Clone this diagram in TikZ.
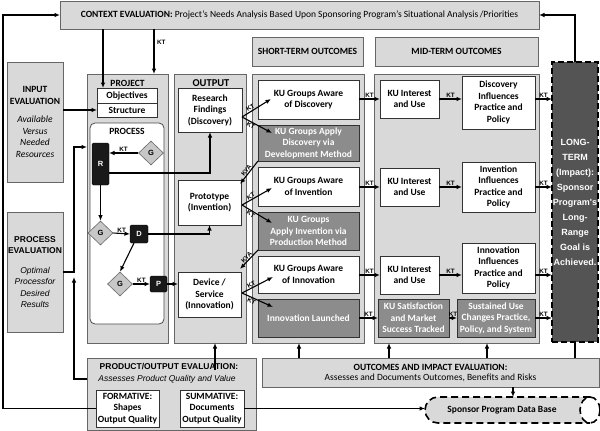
\documentclass[tikz,border=0pt]{standalone}
\usepackage{fontspec}
\setmainfont{Carlito}
\newfontfamily\arialfont{Liberation Sans}
\usetikzlibrary{positioning,calc,shapes.geometric,arrows.meta}
\newcommand{\evnote}[1]{{\mdseries\itshape #1}}

\begin{document}
\begin{tikzpicture}[x=1pt,y=-1pt,>={Latex[length=5.5pt,width=4.5pt]},font=\fontsize{9.5}{11.5}\selectfont\bfseries]
	\tikzstyle{column}=[draw=black!60, fill=black!15, line width=0.8pt, outer sep=0pt, inner sep=1pt, align=center]
	\tikzstyle{whitebox}=[draw=black!80, fill=white, line width=0.8pt, outer sep=0pt, inner sep=1pt, align=center]
	\tikzstyle{graybox}=[draw=black!80, fill=black!45, text=white, line width=0.8pt, outer sep=0pt, inner sep=1pt, align=center]
	\tikzstyle{blackbox}=[draw=black, fill=black!90, rounded corners=1.5pt, text=white, outer sep=0pt, inner sep=0pt, font=\arialfont\bfseries\fontsize{7.5}{8}\selectfont]
	\tikzstyle{gate}=[diamond, draw=black!60, fill=black!22, line width=0.6pt, inner sep=0pt, minimum width=25, minimum height=24, font=\arialfont\bfseries\fontsize{7.5}{8}\selectfont]
	\tikzstyle{longbox}=[draw=black, fill=black!67, text=white, line width=1.6pt, dash pattern=on 6pt off 3pt, outer sep=0pt, inner sep=0pt, align=center, font=\arialfont\bfseries\fontsize{9}{15}\selectfont]
	\tikzstyle{dbline}=[draw=black, line width=1.6pt, dash pattern=on 7pt off 4pt]
	\tikzstyle{flow}=[line width=1.1pt]
	\tikzstyle{kt}=[font=\arialfont\bfseries\fontsize{6.3}{6.5}\selectfont, inner sep=0.6pt]
	\useasboundingbox (0,0) rectangle (600,431);
	\clip (0,0) rectangle (600,431);
	% evaluation boxes
	\node[column, minimum width=479, minimum height=28] (context) at (299.5,15) {CONTEXT EVALUATION:\ \mdseries Project's Needs Analysis Based Upon Sponsoring Program's Situational Analysis\,/Priorities};
	\node[column, minimum width=56, minimum height=120] (inputeval) at (35,122) {INPUT\\EVALUATION\\[7pt]\evnote{Available}\\\evnote{Versus}\\\evnote{Needed}\\\evnote{Resources}};
	\node[column, minimum width=56, minimum height=120, font=\arialfont\bfseries\fontsize{8.5}{11.5}\selectfont] (proceval) at (35,272) {PROCESS\\EVALUATION\\[8pt]\evnote{Optimal}\\\evnote{Processfor}\\\evnote{Desired}\\\evnote{Results}};
	\node[column, minimum width=169, minimum height=72] (prodeval) at (171.5,394) {};
	\node[font=\arialfont\bfseries\fontsize{8.5}{10}\selectfont] (prodtitle) at (169,367) {PRODUCT/OUTPUT EVALUATION:};
	\node[font=\arialfont\itshape\fontsize{8.5}{10}\selectfont] (prodsub) at (167,379) {Assesses Product Quality and Value};
	\node[whitebox, minimum width=63, minimum height=37] (formative) at (127.5,408.5) {FORMATIVE:\\Shapes\\Output Quality};
	\node[whitebox, minimum width=64, minimum height=37] (summative) at (212,408.5) {SUMMATIVE:\\Documents\\Output Quality};
	\node[column, minimum width=337, minimum height=29, font=\fontsize{9.5}{10}\selectfont\bfseries] (outeval) at (430.5,372.5) {OUTCOMES AND IMPACT EVALUATION:\\\mdseries Assesses and Documents Outcomes, Benefits and Risks};
	% data base
	\node[minimum width=178, minimum height=26, inner sep=0pt, outer sep=0pt] (database) at (514,410) {};
	\fill[black!15] ([xshift=13pt]database.north west) arc[start angle=90, end angle=270, radius=13pt] -- ([xshift=-13pt]database.south east) -- ([xshift=-13pt]database.north east) -- cycle;
	\draw[dbline, fill=white] ([xshift=-13pt]database.east) ellipse [x radius=10pt, y radius=13pt];
	\draw[dbline] ([xshift=-13pt]database.north east) -- ([xshift=13pt]database.north west) arc[start angle=90, end angle=270, radius=13pt] -- ([xshift=-13pt]database.south east);
	\node (dblabel) at (502,410.5) {Sponsor Program Data Base};
	% headers
	\node[column, minimum width=111, minimum height=29] (shorthead) at (307.5,51.5) {SHORT-TERM OUTCOMES};
	\node[column, minimum width=163, minimum height=29] (midhead) at (456.5,51.5) {MID-TERM OUTCOMES};
	% columns
	\node[column, minimum width=81, minimum height=269] (project) at (127.5,208.5) {};
	\node (projectlabel) at (127.5,83) {PROJECT};
	\node[column, minimum width=72, minimum height=269] (output) at (210,208.5) {};
	\node (outputlabel) at (211,83) {\fontsize{10.5}{12}\selectfont OUTPUT};
	\node[column, minimum width=112, minimum height=269] (short) at (308,208.5) {};
	\node[column, minimum width=165, minimum height=269] (mid) at (456.5,208.5) {};
	% project
	\node[whitebox, minimum width=60, minimum height=15] (objectives) at (127,95.5) {Objectives};
	\node[whitebox, minimum width=60, minimum height=14, below=0pt of objectives] (structure) {Structure};
	\node[draw=black!70, fill=white, line width=0.8pt, rounded corners=5pt, minimum width=74, minimum height=201] (process) at (127,223.5) {};
	\node (processlabel) at (127,131) {PROCESS};
	\node[blackbox, minimum width=17, minimum height=42] (rbox) at (100.5,164) {R};
	\node[gate] (g1) at (151,153) {G};
	\node[gate] (g2) at (100.5,233) {G};
	\node[blackbox, minimum width=18, minimum height=18] (dbox) at (139,234) {D};
	\node[gate] (g3) at (120,284) {G};
	\node[blackbox, minimum width=17, minimum height=16] (pbox) at (158.5,284) {P};
	% output
	\node[whitebox, minimum width=64, minimum height=44] (research) at (210,110) {Research\\Findings\\(Discovery)};
	\node[whitebox, minimum width=63, minimum height=45] (proto) at (209.5,202.5) {Prototype\\(Invention)};
	\node[whitebox, minimum width=63, minimum height=45] (device) at (209.5,294.5) {Device /\\Service\\(Innovation)};
	% short-term
	\node[whitebox, minimum width=101, minimum height=39] (aware1) at (308.5,99.5) {KU Groups Aware\\of Discovery};
	\node[graybox, minimum width=101, minimum height=36, below=6pt of aware1] (apply1) {KU Groups Apply\\Discovery via\\Development Method};
	\node[whitebox, minimum width=101, minimum height=39, below=6pt of apply1] (aware2) {KU Groups Aware\\of Invention};
	\node[graybox, minimum width=101, minimum height=38, below=6pt of aware2] (apply2) {KU Groups\\Apply Invention via\\Production Method};
	\node[whitebox, minimum width=101, minimum height=37, below=6pt of apply2] (aware3) {KU Groups Aware\\of Innovation};
	\node[graybox, minimum width=101, minimum height=38, below=6pt of aware3] (launch) {Innovation Launched};
	% mid-term
	\node[whitebox, minimum width=59, minimum height=38] (interest1) at (409.5,99) {KU Interest\\and Use};
	\node[whitebox, minimum width=73, minimum height=53] (influence1) at (498.5,102.5) {Discovery\\Influences\\Practice and\\Policy};
	\node[whitebox, minimum width=59, minimum height=38] (interest2) at (409.5,187) {KU Interest\\and Use};
	\node[whitebox, minimum width=73, minimum height=50] (influence2) at (498.5,187) {Invention\\Influences\\Practice and\\Policy};
	\node[whitebox, minimum width=59, minimum height=38] (interest3) at (409.5,275) {KU Interest\\and Use};
	\node[whitebox, minimum width=73, minimum height=50] (influence3) at (498.5,268) {Innovation\\Influences\\Practice and\\Policy};
	\node[graybox, minimum width=71, minimum height=38] (satisf) at (413.5,318) {KU Satisfaction\\and Market\\Success Tracked};
	\node[graybox, minimum width=78, minimum height=38] (sustain) at (496,318) {Sustained Use\\Changes Practice,\\Policy, and System};
	% long-term
	\node[longbox, minimum width=46, minimum height=280] (longterm) at (575,202) {LONG-\\TERM\\(Impact):\\Sponsor\\Program's\\Long-\\Range\\Goal is\\Achieved.};
	% connectors
	\coordinate (pjoin) at (74,272);
	\coordinate (pjoinb) at (74,277);
	\draw[->, flow] (formative.west) -- (formative.west -| 3,0) |- (context.west);
	\draw[->, flow] (longterm.north) |- (context.east);
	\draw[->, flow] (context.south -| 103,0) -- (objectives.north -| 103,0);
	\draw[->, flow] (context.south -| 154,0) -- (project.north -| 154,0) node[kt, pos=0.3, right=2pt] {KT};
	\draw[->, flow] (structure.west -| inputeval.east) -- (structure.west);
	\draw[->, flow] (proceval.east) -- (pjoin) |- (project.west |- 0,147);
	\draw[->, flow] (prodeval.west |- prodsub) -| (pjoinb);
	\draw[->, flow] ($(prodeval.north)+(43.5,12)$) -- (output.south -| 215,0);
	\draw[->, flow] (summative.east) -- (summative.east -| database.west);
	\draw[->, flow] (g1.west) -- (g1.west -| rbox.east) node[kt, midway, above] {KT};
	\draw[->, flow] (rbox.south) -- (g2.north);
	\draw[->, flow] (g2.east) -- (dbox.west) node[kt, midway, above] {KT};
	\draw[->, flow] ([xshift=4pt]dbox.south west) -- (g3.north);
	\draw[->, flow] (g3.east) -- (pbox.west) node[kt, midway, above] {KT};
	\draw[->, flow] ([yshift=-9pt]rbox.east) -| (research.south);
	\draw[->, flow] (dbox.east) -| (proto.south);
	\draw[->, flow] (pbox.east) -- (pbox.east -| device.west);
	% output to short-term
	\coordinate (fork1) at ($(research.east)+(0,7)$);
	\coordinate (fork2) at ($(proto.east)+(1,2.5)$);
	\coordinate (fork3) at ($(device.east)+(1,-1.5)$);
	\draw[->, flow] (fork1) -- ($(aware1.west)+(13,-0.5)$) node[kt, sloped, above, pos=0.35] {KT};
	\draw[->, flow] (fork1) -- ($(apply1.west)+(14,-10)$) node[kt, sloped, below, pos=0.35] {KT};
	\draw[->, flow] (apply1.south west) -- ($(proto.north east)+(-1,4)$) node[kt, sloped, above, pos=0.5] {KYA};
	\draw[->, flow] (fork2) -- ($(aware2.west)+(14,1.5)$) node[kt, sloped, above, pos=0.35] {KT};
	\draw[->, flow] (fork2) -- ($(apply2.west)+(14,-8)$) node[kt, sloped, below, pos=0.35] {KT};
	\draw[->, flow] (apply2.south west) -- ($(device.north east)+(-1,-3)$) node[kt, sloped, above, pos=0.5] {KYA};
	\draw[->, flow] (fork3) -- ($(aware3.west)+(15,2.5)$) node[kt, sloped, above, pos=0.35] {KT};
	\draw[->, flow] (fork3) -- ($(launch.west)+(15,-11)$) node[kt, sloped, below, pos=0.35] {KT};
	% short-term to mid-term to long-term
	\draw[->, flow] (interest1.west -| aware1.east) -- (interest1.west) node[kt, midway, above] {KT};
	\draw[->, flow] (interest1.east) -- (interest1.east -| influence1.west) node[kt, midway, above] {KT};
	\draw[->, flow] (interest1.east -| influence1.east) -- (interest1.east -| longterm.west) node[kt, midway, above] {KT};
	\draw[->, flow] (interest2.west -| aware2.east) -- (interest2.west) node[kt, midway, above] {KT};
	\draw[->, flow] (interest2.east) -- (interest2.east -| influence2.west) node[kt, midway, above] {KT};
	\draw[->, flow] (interest2.east -| influence2.east) -- (interest2.east -| longterm.west) node[kt, midway, above] {KT};
	\draw[->, flow] (interest3.west -| aware3.east) -- (interest3.west) node[kt, midway, above] {KT};
	\draw[->, flow] (interest3.east) -- (interest3.east -| influence3.west) node[kt, midway, above] {KT};
	\draw[->, flow] (interest3.east -| influence3.east) -- (interest3.east -| longterm.west) node[kt, midway, above] {KT};
	\draw[->, flow] (launch.east) -- (launch.east -| satisf.west) node[kt, midway, above] {KT};
	\draw[->, flow] (satisf.east) -- (satisf.east -| sustain.west) node[kt, midway, above] {KT};
	\draw[->, flow] (sustain.east) -- (sustain.east -| longterm.west) node[kt, midway, above] {KT};
	% outcomes evaluation
	\draw[->, flow] (outeval.north -| 299,0) -- (short.south -| 299,0);
	\draw[->, flow] (outeval.north -| 389,0) -- (mid.south -| 389,0);
	\draw[->, flow] (outeval.north -| 487,0) -- (mid.south -| 487,0);
	\draw[flow] (outeval.north -| longterm.south) -- (longterm.south);
	\draw[->, flow] (outeval.south -| 513,0) -- (database.north -| 513,0);
\end{tikzpicture}
\end{document}
